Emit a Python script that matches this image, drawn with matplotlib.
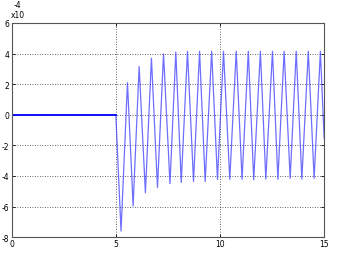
import numpy as np
import matplotlib
matplotlib.use("Agg")
import matplotlib.pyplot as plt

# flat part before the step, then the oscillation extrema (x1e-4)
t_flat = [0.0, 5.0]
v_flat = [0.0, 0.0]

t_osc = [5.0, 5.25, 5.56, 5.83, 6.12, 6.42, 6.71, 7.0, 7.29, 7.6, 7.88,
         8.14, 8.44, 8.73, 9.02, 9.29, 9.6, 9.88, 10.17, 10.47, 10.78,
         11.06, 11.36, 11.62, 11.94, 12.2, 12.52, 12.78, 13.08, 13.37, 13.66,
         13.93, 14.24, 14.52, 14.82, 15.0]
v_osc = [0.0, -7.6, 2.1, -5.95, 3.15, -5.1, 3.7, -4.75, 3.98, -4.5, 4.1,
         -4.42, 4.15, -4.36, 4.15, -4.36, 4.15, -4.22, 4.15, -4.22, 4.15,
         -4.22, 4.15, -4.25, 4.15, -4.2, 4.15, -4.22, 4.15, -4.15, 4.15,
         -4.2, 4.15, -4.15, 4.15, -1.5]

xticks = [0, 5, 10, 15]
yticks = [-8, -6, -4, -2, 0, 2, 4, 6]

fig = plt.figure(figsize=(3.43, 2.55), dpi=100)
ax = fig.add_axes([0.034, 0.066, 0.911, 0.84])

ax.plot(t_osc, v_osc, color="#3030ff", lw=0.9, alpha=0.7)
ax.plot(t_flat, v_flat, color="#0000ff", lw=1.3)

ax.set_xlim(0, 15)
ax.set_ylim(-8, 6)
ax.set_xticks(xticks)
ax.set_yticks(yticks)
ax.set_xticklabels([str(v) for v in xticks])
ax.set_yticklabels([str(v) for v in yticks])
ax.tick_params(direction="in", length=2.5, width=0.6, labelsize=5.5, pad=1.5,
               top=True, right=True)
ax.grid(True, linestyle=(0, (1, 2)), color="#333333", lw=0.6)
for s in ax.spines.values():
    s.set_color("#555555")
    s.set_linewidth(0.8)

fig.text(11 / 343, 1 - 15 / 255, "x10", fontsize=5.5, va="center", ha="left")
fig.text(14 / 343, 1 - 5 / 255, "-4", fontsize=5.5, va="center", ha="left")

fig.savefig("out.png", dpi=100)
